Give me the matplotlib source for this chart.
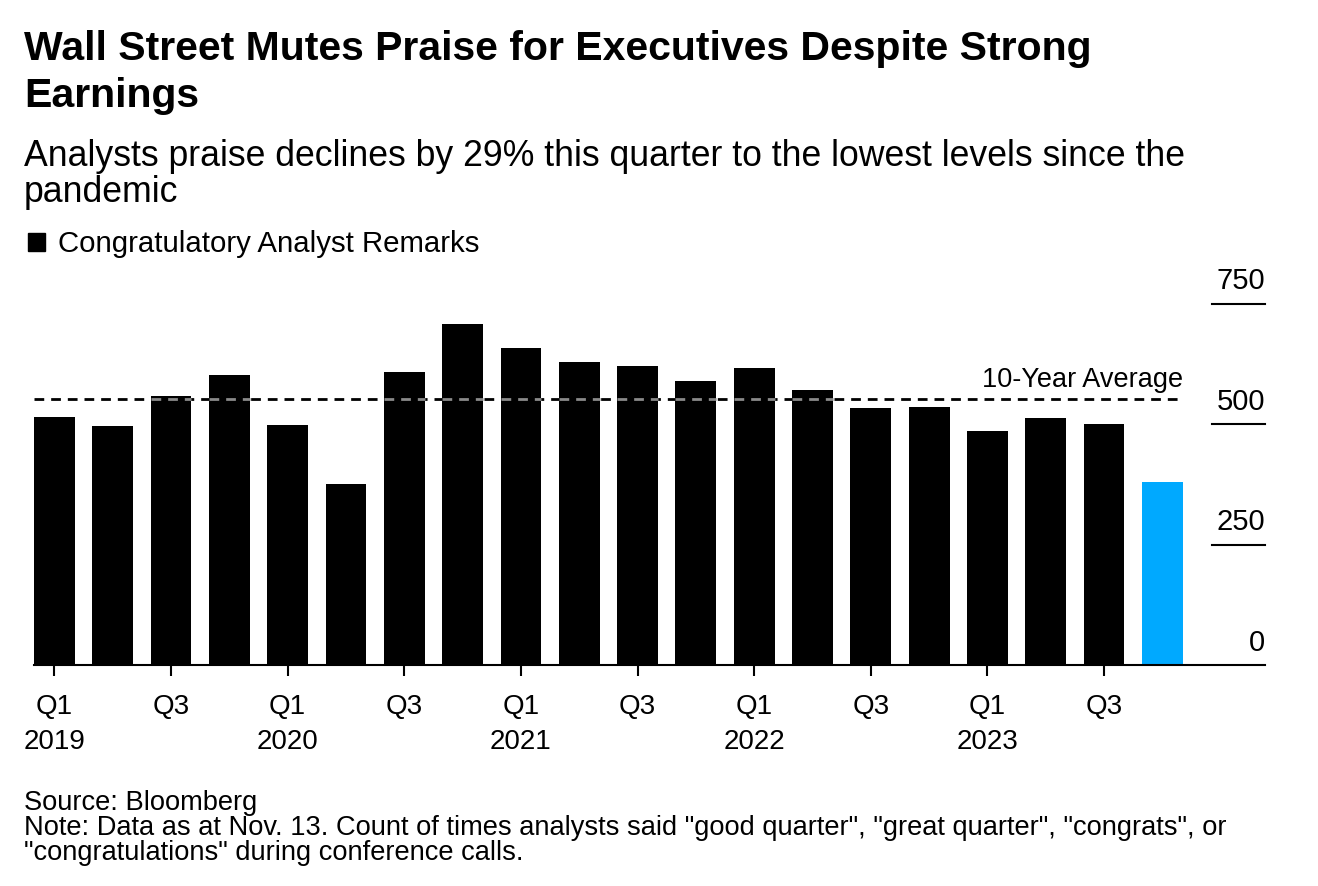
import numpy as np
import matplotlib.pyplot as plt
from matplotlib.patches import Rectangle
import matplotlib.transforms as mtransforms

plt.rcParams['font.family'] = ['Liberation Sans', 'DejaVu Sans']

# Datos
trimestres = ['Q1', 'Q2', 'Q3', 'Q4'] * 5
anios = ['2019', '2020', '2021', '2022', '2023']
valores = [515, 496, 558, 601, 499, 375, 608, 707, 658, 629,
           621, 590, 617, 570, 533, 536, 485, 513, 500, 379]
promedio = 552
y_ticks = [0, 250, 500, 750]

titulo = ['Wall Street Mutes Praise for Executives Despite Strong', 'Earnings']
subtitulo = ['Analysts praise declines by 29% this quarter to the lowest levels since the',
             'pandemic']
notas = ['Source: Bloomberg',
         'Note: Data as at Nov. 13. Count of times analysts said "good quarter", "great quarter", "congrats", or',
         '"congratulations" during conference calls.']

negro = '#000000'
azul = '#00a9ff'

x = np.arange(len(valores))
colores = [negro] * (len(valores) - 1) + [azul]
ancho = 0.7

W, H = 1318, 886
fig = plt.figure(figsize=(W / 100, H / 100), dpi=100)
ax = fig.add_axes([34 / W, 221 / H, (1265 - 34) / W, (665 - 303.7) / H])

ax.bar(x, valores, width=ancho, color=colores, zorder=2)

# Linea del promedio de 10 años (gris encima de las barras)
ax.hlines(promedio, x[0] - ancho / 2, x[-1] + ancho / 2, colors=negro,
          linestyles=(0, (3.5, 2.5)), linewidth=2, zorder=1)
for xi, v in zip(x, valores):
    if v > promedio:
        ax.hlines(promedio, xi - ancho / 2, xi + ancho / 2, colors='#8a8a8a',
                  linestyles=(0, (3.5, 2.5)), linewidth=2, zorder=3)
ax.text(x[-1] + ancho / 2, promedio + 12, '10-Year Average', ha='right', va='bottom',
        fontsize=19.5)

ax.set_xlim(-ancho / 2, 20.76)
ax.set_ylim(0, 750)

# Eje y a la derecha: etiquetas encima de rayitas
trans = mtransforms.blended_transform_factory(ax.transAxes, ax.transData)
x0 = (1212 - 34) / (1265 - 34)
for t in y_ticks:
    if t > 0:
        ax.plot([x0, 1], [t, t], color=negro, linewidth=1.5, transform=trans, clip_on=False)
    ax.text(1, t + 30, str(t), transform=trans, ha='right', va='baseline', fontsize=21)
ax.set_yticks([])

# Eje x
pos = [i for i in x if i % 2 == 0]
etiquetas = []
for i in pos:
    if trimestres[i] == 'Q1':
        etiquetas.append('Q1\n' + anios[i // 4])
    else:
        etiquetas.append(trimestres[i])
ax.set_xticks(pos)
ax.set_xticklabels(etiquetas, fontsize=20, linespacing=1.42, va='top')
ax.tick_params(axis='x', length=8, width=1.5, pad=13, color=negro)

for s in ['top', 'left', 'right']:
    ax.spines[s].set_visible(False)
ax.spines['bottom'].set_linewidth(1.5)
ax.spines['bottom'].set_zorder(4)

# Textos
for linea, yb in zip(titulo, [60, 107]):
    fig.text(24 / W, 1 - yb / H, linea, fontsize=29.5, fontweight='bold', va='baseline')
for linea, yb in zip(subtitulo, [166, 202]):
    fig.text(24 / W, 1 - yb / H, linea, fontsize=25.7, va='baseline')
fig.patches.append(Rectangle((28 / W, 1 - 251 / H), 17 / W, 18 / H,
                             transform=fig.transFigure, color=negro))
fig.text(58 / W, 1 - 252 / H, 'Congratulatory Analyst Remarks', fontsize=21.2, va='baseline')
for linea, yb in zip(notas, [810, 835, 860]):
    fig.text(24 / W, 1 - yb / H, linea, fontsize=19.6, va='baseline')

plt.savefig('out.png', dpi=100)
